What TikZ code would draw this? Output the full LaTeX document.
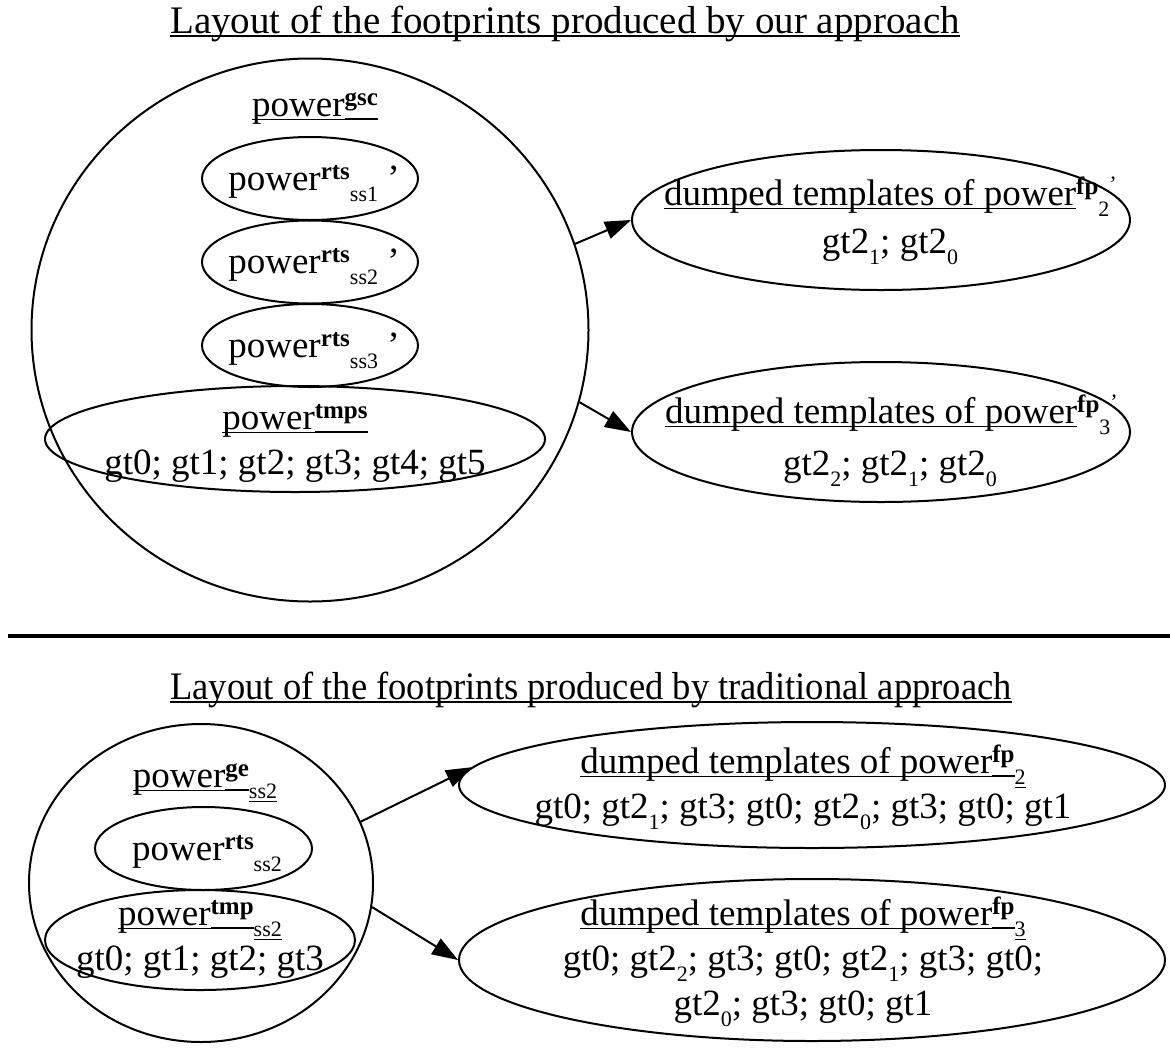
\documentclass[tikz,border=0pt]{standalone}
\usepackage{fontspec}
\setmainfont{Liberation Serif}
\usetikzlibrary{shapes.geometric, arrows.meta, positioning, calc}

% underline at a fixed depth, superscripts and subscripts
\newcommand{\ul}[2][1.5pt]{\setbox0\hbox{#2}\rlap{\rule[-4pt]{\wd0}{#1}}\box0}
\newcommand{\sups}[1]{\raisebox{11pt}{\fontsize{25}{25}\selectfont\bfseries #1}}
\newcommand{\subs}[1]{\raisebox{-11pt}{\fontsize{22}{22}\selectfont #1}}
\newcommand{\tick}{\raisebox{14pt}{\fontsize{22}{22}\selectfont ’}}

\tikzset{
  blob/.style={draw, ellipse, line width=2pt, inner sep=0pt},
  txt/.style={inner sep=0pt, anchor=base, align=center,
              font=\fontsize{37}{45}\selectfont},
  heading/.style={txt, font=\fontsize{39}{45}\selectfont},
  link/.style={-{Triangle[length=26pt,width=18pt]}, line width=2pt},
}

\begin{document}
\begin{tikzpicture}[x=1pt, y=-1pt]
\useasboundingbox (0,0) rectangle (1170,1058);

% Our approach
\node[heading] (titleA) at (565,33)
  {\ul[2pt]{Layout of the footprints produced by our approach}};
\node[blob, minimum width=557pt, minimum height=543pt] (gsc) at (310,330) {};
\node[txt] (gscT) at (315,116) {\ul{power}\ul[2.5pt]{\sups{gsc}}};
\foreach \i/\y in {1/178.5, 2/262, 3/345.5} {
  \node[blob, minimum width=216pt, minimum height=83pt] (rts\i) at (310,\y) {};
  \node[txt] (rtsT\i) at ($(rts\i)+(4,11.5)$) {power\sups{rts}\subs{ss\i} ’};
}
\node[blob, minimum width=500pt, minimum height=106pt] (tmps) at (295,439) {};
\node[txt] (tmpsT) at (295,474)
  {\ul{power}\ul[2.5pt]{\sups{tmps}}\\gt0; gt1; gt2; gt3; gt4; gt5};

\node[blob, minimum width=498pt, minimum height=140pt] (fpA2) at (881,220) {};
\node[txt, anchor=base west] (fpA2T) at (664,205)
  {\ul{dumped templates of power}\sups{fp}\subs{2}\tick};
\node[txt] (fpA2S) at (890,253) {gt2\subs{1}; gt2\subs{0}};
\node[blob, minimum width=498pt, minimum height=140pt] (fpA3) at (881,432) {};
\node[txt, anchor=base west] (fpA3T) at (665,423)
  {\ul{dumped templates of power}\sups{fp}\subs{3}\tick};
\node[txt] (fpA3S) at (890,475) {gt2\subs{2}; gt2\subs{1}; gt2\subs{0}};

\draw[link] (gsc.18.6) -- (fpA2.west);
\draw[link] (gsc.-15.3) -- (fpA3.west);

% Separator
\coordinate (ruleL) at (8,636);
\coordinate (ruleR) at (1170,636);
\draw[line width=4pt] (ruleL) -- (ruleR);

% Traditional approach
\node[heading] (titleB) at (591,699)
  {\scalebox{0.937}[1]{\ul[2pt]{Layout of the footprints produced by traditional approach}}};
\node[blob, minimum width=344pt, minimum height=318pt] (ge) at (201,883) {};
\node[txt] (geT) at (205,787) {\ul{power}\ul[2.5pt]{\sups{ge}}\subs{\ul{ss2}}};
\node[blob, minimum width=217pt, minimum height=83pt] (rtsB) at (203.5,848.5) {};
\node[txt] (rtsBT) at (207,860) {power\sups{rts}\subs{ss2}};
\node[blob, minimum width=310pt, minimum height=100pt] (tmp) at (200,940) {};
\node[txt] (tmpT) at (200,970)
  {\ul{power}\ul[2.5pt]{\sups{tmp}}\subs{\ul{ss2}}\\gt0; gt1; gt2; gt3};

\node[blob, minimum width=706pt, minimum height=126pt] (fpB2) at (812,785) {};
\node[txt] (fpB2T) at (803,818)
  {\ul{dumped templates of power}\ul[2.5pt]{\sups{fp}}\subs{\ul{2}}\\
   gt0; gt2\subs{1}; gt3; gt0; gt2\subs{0}; gt3; gt0; gt1};
\node[blob, minimum width=706pt, minimum height=162pt] (fpB3) at (812,960) {};
\node[txt] (fpB3T) at (803,1015)
  {\ul{dumped templates of power}\ul[2.5pt]{\sups{fp}}\subs{\ul{3}}\\
   gt0; gt2\subs{2}; gt3; gt0; gt2\subs{1}; gt3; gt0;\\
   gt2\subs{0}; gt3; gt0; gt1};

\draw[link] (ge.21.9) -- (fpB2.177);
\draw[link] (ge.-8.3) -- (fpB3.west);
\end{tikzpicture}
\end{document}
